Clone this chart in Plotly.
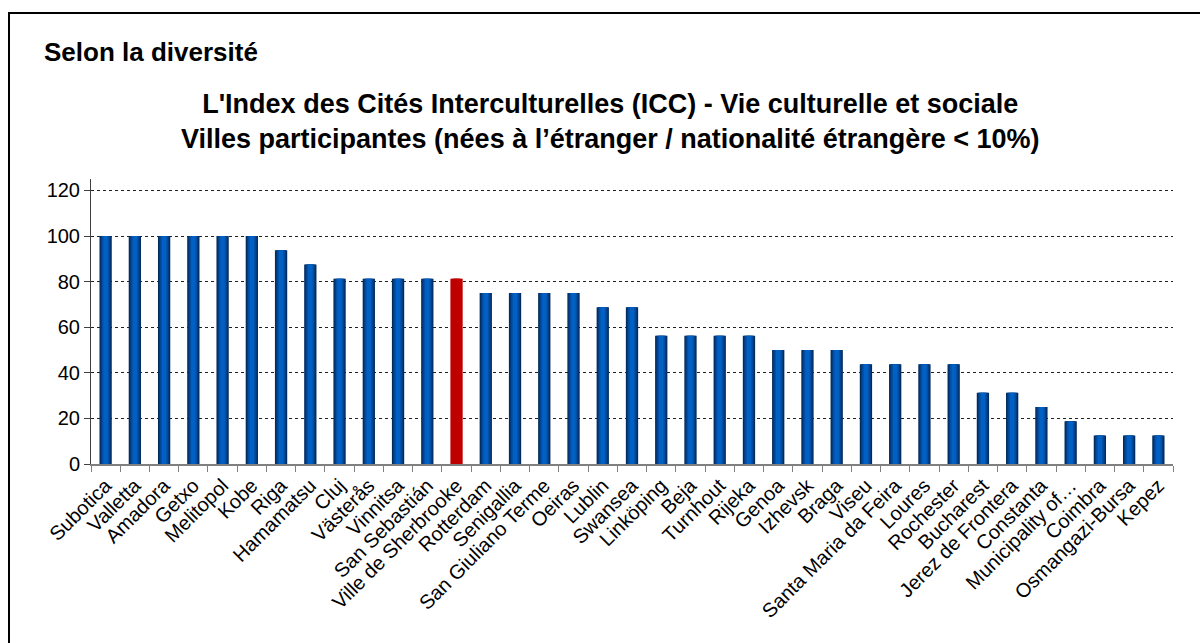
import plotly.graph_objects as go

# Cities and scores (ICC - cultural and social life)
cities = [
    "Subotica", "Valletta", "Amadora", "Getxo", "Melitopol", "Kobe", "Riga",
    "Hamamatsu", "Cluj", "Västerås", "Vinnitsa", "San Sebastián",
    "Ville de Sherbrooke", "Rotterdam", "Senigallia", "San Giuliano Terme",
    "Oeiras", "Lublin", "Swansea", "Linköping", "Beja", "Turnhout", "Rijeka",
    "Genoa", "Izhevsk", "Braga", "Viseu", "Santa Maria da Feira", "Loures",
    "Rochester", "Bucharest", "Jerez de Frontera", "Constanta",
    "Municipality of…", "Coimbra", "Osmangazi-Bursa", "Kepez",
]
scores = [
    100, 100, 100, 100, 100, 100, 93.75,
    87.5, 81.25, 81.25, 81.25, 81.25,
    81.25, 75, 75, 75,
    75, 68.75, 68.75, 56.25, 56.25, 56.25, 56.25,
    50, 50, 50, 43.75, 43.75, 43.75,
    43.75, 31.25, 31.25, 25,
    18.75, 12.5, 12.5, 12.5,
]
highlight = "Ville de Sherbrooke"

y_ticks = [0, 20, 40, 60, 80, 100, 120]

# Layered bars give the cylinder-like shading: dark edges, bright core
layers = [
    (0.42, "#022b5e"),
    (0.34, "#033d80"),
    (0.25, "#044fa4"),
    (0.15, "#0060c4"),
]
RED = "#c00000"

fig = go.Figure()
for width, colour in layers:
    fig.add_trace(go.Bar(
        x=cities,
        y=scores,
        width=width,
        marker=dict(
            color=[RED if c == highlight else colour for c in cities],
            line=dict(width=0),
        ),
        hoverinfo="x+y",
        showlegend=False,
    ))

font_main = "Liberation Sans, Arial, sans-serif"

fig.update_layout(
    width=1200,
    height=643,
    barmode="overlay",
    paper_bgcolor="white",
    plot_bgcolor="white",
    margin=dict(l=91, r=27, t=179, b=179),
    font=dict(family=font_main, color="black", size=20),
    xaxis=dict(
        type="category",
        tickangle=-45,
        tickson="boundaries",
        ticks="outside",
        ticklen=6,
        tickcolor="#808080",
        showline=True,
        linecolor="#808080",
        linewidth=2,
        showgrid=False,
        tickfont=dict(size=20, family=font_main, color="black"),
    ),
    yaxis=dict(
        range=[0, 125],
        tickvals=y_ticks,
        ticks="outside",
        ticklen=6,
        tickcolor="#404040",
        showline=True,
        linecolor="#404040",
        linewidth=1,
        showgrid=True,
        gridcolor="#202020",
        griddash="dot",
        gridwidth=1,
        zeroline=False,
        tickfont=dict(size=20, family=font_main, color="black"),
    ),
    annotations=[
        dict(
            text="<b>Selon la diversité</b>",
            xref="paper", yref="paper",
            x=-0.0453, y=1.4456,
            xanchor="left", yanchor="middle",
            showarrow=False,
            font=dict(size=26, family=font_main),
        ),
        dict(
            text="<b>L'Index des Cités Interculturelles (ICC) - Vie culturelle et sociale<br>"
                 "Villes participantes (nées à l’étranger / nationalité étrangère < 10%)</b>",
            xref="paper", yref="paper",
            x=0.4797, y=1.2035,
            xanchor="center", yanchor="middle",
            showarrow=False,
            font=dict(size=27, family=font_main),
        ),
    ],
    shapes=[
        dict(
            type="rect",
            xref="paper", yref="paper",
            x0=(9 - 91) / 1082, x1=(1210 - 91) / 1082,
            y0=(464 - 660) / 285, y1=(464 - 13) / 285,
            line=dict(color="black", width=2),
            fillcolor="rgba(0,0,0,0)",
            layer="below",
        ),
    ],
)

fig.write_html("out.html")
